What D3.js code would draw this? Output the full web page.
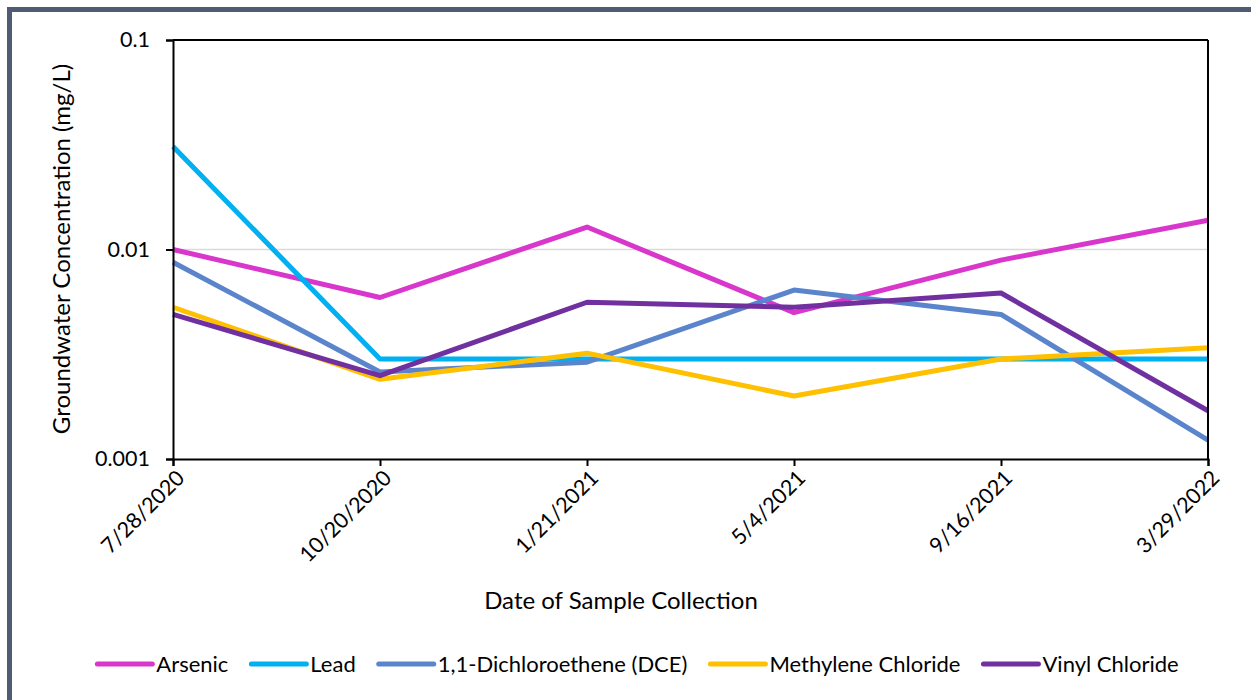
<!DOCTYPE html>
<html><head><meta charset="utf-8">
<script src="https://cdnjs.cloudflare.com/ajax/libs/d3/7.8.5/d3.min.js"></script>
<style>
html,body{margin:0;padding:0;background:#fff;}
svg{display:block;}
text{font-family:Lato,"Open Sans",sans-serif;fill:#000;}
</style></head><body>
<svg id="c" width="1251" height="700"></svg>
<script>
const dates = ["7/28/2020","10/20/2020","1/21/2021","5/4/2021","9/16/2021","3/29/2022"];
const seriesNames = ["Arsenic","Lead","1,1-Dichloroethene (DCE)","Methylene Chloride","Vinyl Chloride"];
const arsenic   = [0.010, 0.0059, 0.0128, 0.0050, 0.0089, 0.0138];
const lead      = [0.031, 0.0030, 0.0030, 0.0030, 0.0030, 0.0030];
const dce       = [0.0087, 0.0026, 0.0029, 0.0064, 0.0049, 0.00123];
const methylene = [0.0053, 0.0024, 0.0032, 0.0020, 0.0030, 0.0034];
const vinyl     = [0.0049, 0.0025, 0.0056, 0.0053, 0.0062, 0.0017];
const colors    = ["#D936CC","#00B0F0","#5A85CC","#FFC000","#7030A0"];
const yTicks    = [0.001, 0.01, 0.1];
const yTickLabels = ["0.001","0.01","0.1"];

const allSeries = [arsenic, lead, dce, methylene, vinyl];
const svg = d3.select("#c");

// outer frame
svg.append("rect").attr("x",9.5).attr("y",9.5).attr("width",1300).attr("height",800)
  .attr("fill","#fff").attr("stroke","#505C72").attr("stroke-width",5);

const L=173, R=1208, T=40, B=459;
const x = d3.scalePoint().domain(dates).range([L,R]);
const y = d3.scaleLog().domain([0.001,0.1]).range([B,T]);

// gridline at 0.01
svg.append("g").selectAll("line").data([0.01]).join("line")
  .attr("x1",L).attr("x2",R).attr("y1",d=>y(d)).attr("y2",d=>y(d))
  .attr("stroke","#D9D9D9").attr("stroke-width",1.5);

// lines
const line = d3.line().x((d,i)=>x(dates[i])).y(d=>y(d));
svg.append("g").selectAll("path").data(allSeries).join("path")
  .attr("d",line).attr("fill","none")
  .attr("stroke",(d,i)=>colors[i]).attr("stroke-width",5)
  .attr("stroke-linejoin","round").attr("stroke-linecap","butt");

// plot border (top/right)
svg.append("line").attr("x1",L).attr("x2",R).attr("y1",T).attr("y2",T).attr("stroke","#000").attr("stroke-width",2);
svg.append("line").attr("x1",R).attr("x2",R).attr("y1",T).attr("y2",B).attr("stroke","#000").attr("stroke-width",2);

// y axis
const yAxis = d3.axisLeft(y).tickValues(yTicks).tickFormat((d,i)=>yTickLabels[yTicks.indexOf(d)]).tickSizeOuter(0).tickSize(7).tickPadding(16);
const gy = svg.append("g").attr("transform",`translate(${L},0)`).call(yAxis);
gy.select(".domain").attr("stroke","#000").attr("stroke-width",2);
gy.selectAll(".tick line").attr("stroke","#000").attr("stroke-width",2);
gy.selectAll(".tick text").style("font-size","21.5px").attr("fill","#000");

// x axis
const xAxis = d3.axisBottom(x).tickSizeOuter(0).tickSize(7);
const gx = svg.append("g").attr("transform",`translate(0,${B})`).call(xAxis);
gx.select(".domain").attr("stroke","#000").attr("stroke-width",2);
gx.selectAll(".tick line").attr("stroke","#000").attr("stroke-width",2);
gx.selectAll(".tick text").style("font-size","21.5px").attr("fill","#000")
  .attr("text-anchor","end").attr("y",null)
  .attr("transform","translate(7,15) rotate(-45)").attr("dy","0.35em");

// axis titles
svg.append("text").attr("x",621).attr("y",609).attr("text-anchor","middle")
  .style("font-size","24px").text("Date of Sample Collection");
svg.append("text").attr("transform","translate(70,249) rotate(-90)").attr("text-anchor","middle")
  .style("font-size","24px").text("Groundwater Concentration (mg/L)");

// legend
const lg = svg.append("g");
const items = lg.selectAll("g").data(seriesNames).join("g");
items.append("line").attr("x1",0).attr("x2",55).attr("y1",0).attr("y2",0)
  .attr("stroke",(d,i)=>colors[i]).attr("stroke-width",5).attr("stroke-linecap","round");
items.append("text").attr("x",59).attr("y",0).attr("dy","0.35em").style("font-size","22px").text(d=>d);
const widths=[];
items.each(function(){ const w=this.querySelector("text").getComputedTextLength(); widths.push(59+w); });
const total = d3.sum(widths)+23*(widths.length-1);
let start = 638 - total/2;
items.attr("transform",(d,i)=>{ const t=`translate(${start},664)`; start+=widths[i]+23; return t; });
</script>
</body></html>
